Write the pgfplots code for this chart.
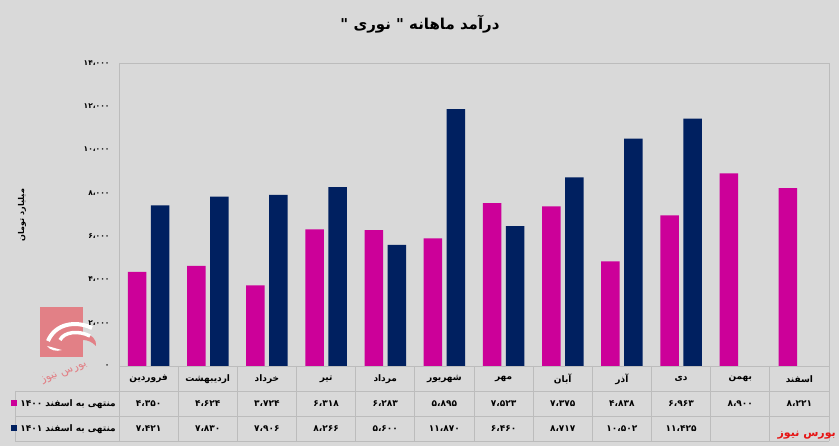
\documentclass[border=0pt]{standalone}
\usepackage{pgfplots}
\pgfplotsset{compat=1.18}
\usepackage{fontspec}
\newfontfamily\fa[Script=Arabic]{DejaVu Sans}
\TeXXeTstate=1
\definecolor{bg}{RGB}{217,217,217}
\definecolor{mag}{RGB}{204,0,153}
\definecolor{navy}{RGB}{0,32,96}
\definecolor{lgray}{RGB}{188,188,188}
\definecolor{wm}{RGB}{226,128,134}
\definecolor{newsred}{RGB}{230,20,20}
\newcommand{\tf}{\fa\bfseries\fontsize{9}{10}\selectfont}
\newcommand{\col}[4]{%
  \node[font=\tf,inner sep=0pt] at (axis cs:#1,0) [yshift=-13pt] {\beginR #2\endR};
  \node[font=\tf,inner sep=0pt] at (axis cs:#1,0) [yshift=-38pt] {#3};
  \node[font=\tf,inner sep=0pt] at (axis cs:#1,0) [yshift=-63pt] {#4};
}
\begin{document}
\begin{tikzpicture}[x=1pt,y=1pt]
\fill[bg] (0,0) rectangle (839,446);
\useasboundingbox (0,0) rectangle (839,446);
% watermark logo
\begin{scope}
\fill[wm] (40,89) rectangle (83,139);
\fill[wm] (83,112) .. controls (92,112) and (97,106) .. (96,100) .. controls (92,104) and (88,106) .. (83,106) -- cycle;
\draw[white,line width=4pt] (48,105) .. controls (55,122) and (75,126) .. (92,118);
\draw[white,line width=3.5pt] (60,106) .. controls (64,114) and (78,116) .. (90,110);
\fill[white] (47,100) .. controls (50,96) and (56,94) .. (62,96) .. controls (57,97) and (52,99) .. (47,100) -- cycle;
\node[font=\fa\fontsize{11}{12}\selectfont,text=wm,rotate=20,xslant=-0.3,inner sep=0pt] at (64,73) {\beginR بورس نیوز\endR};
\end{scope}
% title
\node[font=\fa\bfseries\fontsize{15}{17}\selectfont] at (420,422) {\beginR درآمد ماهانه " نوری "\endR};
% y label
\node[font=\fa\bfseries\fontsize{8}{9}\selectfont,rotate=90] at (22,231) {\beginR میلیارد تومان\endR};
\begin{axis}[
  at={(119pt,80pt)}, anchor=south west,
  scale only axis, width=710pt, height=303pt,
  xmin=-0.5, xmax=11.5, ymin=0, ymax=14000,
  axis background/.style={fill=bg},
  axis line style={draw=lgray, line width=0.8pt},
  xtick=\empty,
  scaled y ticks=false,
  ytick={0,2000,4000,6000,8000,10000,12000,14000},
  yticklabels={۰,۲،۰۰۰,۴،۰۰۰,۶،۰۰۰,۸،۰۰۰,۱۰،۰۰۰,۱۲،۰۰۰,۱۴،۰۰۰},
  yticklabel style={font=\fa\bfseries\fontsize{7.5}{9}\selectfont, xshift=-6pt},
  major tick length=0pt,
  clip=false,
  ybar,
]
\addplot[fill=mag, draw=none, bar width=18.5pt, bar shift=-11.5pt] coordinates {
(0,4350) (1,4624) (2,3724) (3,6318) (4,6283) (5,5895) (6,7523) (7,7375) (8,4838) (9,6963) (10,8900) (11,8221)};
\addplot[fill=navy, draw=none, bar width=18.5pt, bar shift=11.5pt] coordinates {
(0,7421) (1,7830) (2,7906) (3,8266) (4,5600) (5,11870) (6,6460) (7,8717) (8,10502) (9,11425)};
\col{0}{فروردین}{۴،۳۵۰}{۷،۴۲۱}
\col{1}{اردیبهشت}{۴،۶۲۴}{۷،۸۳۰}
\col{2}{خرداد}{۳،۷۲۴}{۷،۹۰۶}
\col{3}{تیر}{۶،۳۱۸}{۸،۲۶۶}
\col{4}{مرداد}{۶،۲۸۳}{۵،۶۰۰}
\col{5}{شهریور}{۵،۸۹۵}{۱۱،۸۷۰}
\col{6}{مهر}{۷،۵۲۳}{۶،۴۶۰}
\col{7}{آبان}{۷،۳۷۵}{۸،۷۱۷}
\col{8}{آذر}{۴،۸۳۸}{۱۰،۵۰۲}
\col{9}{دی}{۶،۹۶۳}{۱۱،۴۲۵}
\col{10}{بهمن}{۸،۹۰۰}{}
\col{11}{اسفند}{۸،۲۲۱}{}
\end{axis}
% table grid
\foreach \k in {0,...,12} {\draw[lgray,line width=0.8pt] ({119+59.1667*\k},80) -- ({119+59.1667*\k},5);}
\foreach \yy in {55,30,5} {\draw[lgray,line width=0.8pt] (15,\yy) -- (829,\yy);}
\draw[lgray,line width=0.8pt] (15,55) -- (15,5);
% legend cells
\node[font=\tf,anchor=east,inner sep=0pt] at (116,42) {{\color{mag}\rule{6pt}{6pt}}\hspace{3pt}\beginR منتهی به اسفند ۱۴۰۰\endR};
\node[font=\tf,anchor=east,inner sep=0pt] at (116,17) {{\color{navy}\rule{6pt}{6pt}}\hspace{3pt}\beginR منتهی به اسفند ۱۴۰۱\endR};
% red brand text
\node[font=\fa\bfseries\fontsize{11}{12}\selectfont,text=newsred,anchor=east,inner sep=0pt] at (836,11) {\beginR بورس نیوز\endR};
\end{tikzpicture}
\end{document}
